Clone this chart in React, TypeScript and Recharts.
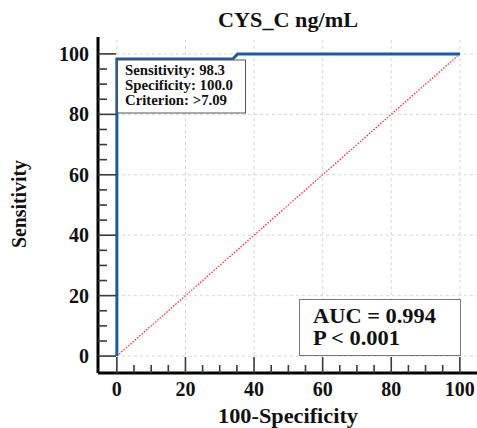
import React from 'react';
import { LineChart, Line, XAxis, YAxis, ReferenceLine } from 'recharts';

// ROC 곡선 좌표 (100-특이도, 민감도)
const rocFpr = [0, 0, 33.8, 35.2, 100];
const rocSens = [0, 98.3, 98.3, 100, 100];
// 기준 대각선
const diagFpr = [0, 100];
const diagSens = [0, 100];
// 축 눈금 (5 단위 보조, 20 단위 주 눈금)
const axisTicks = [0, 5, 10, 15, 20, 25, 30, 35, 40, 45, 50, 55, 60, 65, 70, 75, 80, 85, 90, 95, 100];
const gridTicks = [0, 20, 40, 60, 80, 100];

const infoLines = ['Sensitivity: 98.3', 'Specificity: 100.0', 'Criterion: >7.09'];
const infoWidths = [100, 108, 102];
const aucLines = ['AUC = 0.994', 'P < 0.001'];
const aucWidths = [123, 87];

const FONT = '"Liberation Serif", "Times New Roman", serif';

const rocData = rocFpr.map((x, i) => ({ x, y: rocSens[i] }));
const diagData = diagFpr.map((x, i) => ({ x, y: diagSens[i] }));

const YTick = (props: any) => {
  const { x, y, payload } = props;
  const major = payload.value % 20 === 0;
  return (
    <g>
      <line x1={x} y1={y} x2={x + (major ? 18 : 9)} y2={y} stroke="#3a3a3a" strokeWidth={1.6} />
      {major && (
        <text x={x - 9} y={y} dy="0.35em" textAnchor="end" fontFamily={FONT} fontWeight="bold" fontSize={20} fill="#111">
          {payload.value}
        </text>
      )}
    </g>
  );
};

const XTick = (props: any) => {
  const { x, y, payload } = props;
  const major = payload.value % 20 === 0;
  return (
    <g>
      <line x1={x} y1={y} x2={x} y2={y - (major ? 16 : 8)} stroke="#3a3a3a" strokeWidth={1.6} />
      {major && (
        <text x={x} y={y + 23} textAnchor="middle" fontFamily={FONT} fontWeight="bold" fontSize={20} fill="#111">
          {payload.value}
        </text>
      )}
    </g>
  );
};

const App: React.FC = () => {
  return (
    <div style={{ position: 'absolute', left: 0, top: 0, width: 477, height: 428, background: '#fff' }}>
      <LineChart width={477} height={428} margin={{ top: 37, right: 0, left: 38, bottom: 25 }}>
        {gridTicks.map(v => (
          <ReferenceLine key={`gx${v}`} x={v} stroke="#d6d6d6" strokeDasharray="3 3" />
        ))}
        {gridTicks.map(v => (
          <ReferenceLine key={`gy${v}`} y={v} stroke="#d6d6d6" strokeDasharray="3 3" />
        ))}
        <XAxis
          type="number"
          dataKey="x"
          domain={[-5.5, 105]}
          ticks={axisTicks}
          interval={0}
          height={30}
          tickSize={0}
          tickMargin={0}
          tickLine={false}
          tick={XTick}
          axisLine={{ stroke: '#000', strokeWidth: 3 }}
          allowDataOverflow
        />
        <YAxis
          type="number"
          dataKey="y"
          domain={[-5.6, 105.6]}
          ticks={axisTicks}
          interval={0}
          width={60}
          tickSize={0}
          tickMargin={0}
          tickLine={false}
          tick={YTick}
          axisLine={{ stroke: '#000', strokeWidth: 3 }}
          allowDataOverflow
        />
        <Line
          data={diagData}
          dataKey="y"
          type="linear"
          stroke="#ff2020"
          strokeWidth={1.2}
          strokeDasharray="1.5 1.5"
          dot={false}
          isAnimationActive={false}
        />
        <Line
          data={rocData}
          dataKey="y"
          type="linear"
          stroke="#1b5aa5"
          strokeWidth={3}
          dot={false}
          isAnimationActive={false}
        />
      </LineChart>
      <svg width={477} height={428} style={{ position: 'absolute', left: 0, top: 0, pointerEvents: 'none' }}>
        <g fontFamily={FONT} fontWeight="bold" fill="#111">
          <text x={288} y={27} textAnchor="middle" fontSize={20} textLength={140} lengthAdjust="spacingAndGlyphs">
            CYS_C ng/mL
          </text>
          <text x={288} y={423} textAnchor="middle" fontSize={20} textLength={140} lengthAdjust="spacingAndGlyphs">
            100-Specificity
          </text>
          <text transform="translate(26,204) rotate(-90)" textAnchor="middle" fontSize={20} textLength={88} lengthAdjust="spacingAndGlyphs">
            Sensitivity
          </text>
          <rect x={117.5} y={60} width={128} height={53} fill="#fff" stroke="#555" strokeWidth={1} />
          {infoLines.map((t, i) => (
            <text key={t} x={125} y={75 + i * 15} fontSize={14} textLength={infoWidths[i]} lengthAdjust="spacingAndGlyphs">
              {t}
            </text>
          ))}
          <rect x={299.5} y={299.5} width={161} height={56} fill="#fff" stroke="#777" strokeWidth={1} />
          {aucLines.map((t, i) => (
            <text key={t} x={313} y={323 + i * 22} fontSize={21} textLength={aucWidths[i]} lengthAdjust="spacingAndGlyphs">
              {t}
            </text>
          ))}
        </g>
      </svg>
    </div>
  );
};

export default App;
